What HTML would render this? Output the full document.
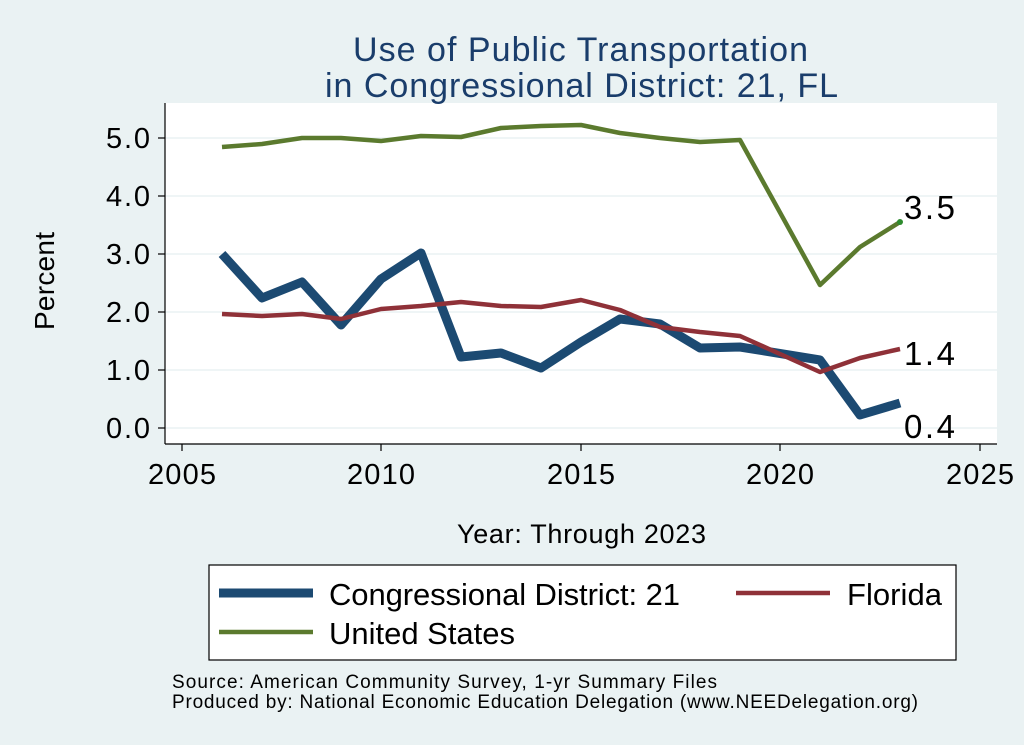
<!DOCTYPE html>
<html><head><meta charset="utf-8"><style>
body{margin:0;background:#eaf2f3;}
svg{display:block;font-family:"Liberation Sans",Arial,sans-serif;}
</style></head><body>
<svg width="1024" height="745" viewBox="0 0 1024 745">
<rect width="1024" height="745" fill="#eaf2f3"/>
<rect x="165" y="103" width="832" height="341" fill="#fff"/>
<g stroke="#eaf2f3" stroke-width="1.5">
<line x1="165" x2="997" y1="428" y2="428"/>
<line x1="165" x2="997" y1="370" y2="370"/>
<line x1="165" x2="997" y1="312" y2="312"/>
<line x1="165" x2="997" y1="254" y2="254"/>
<line x1="165" x2="997" y1="196" y2="196"/>
<line x1="165" x2="997" y1="138" y2="138"/>
</g>
<g stroke="#000" stroke-width="1.2">
<line x1="165" x2="165" y1="103" y2="444"/>
<line x1="165" x2="997" y1="444" y2="444"/>
<line x1="158" x2="165" y1="428" y2="428"/><line x1="158" x2="165" y1="370" y2="370"/>
<line x1="158" x2="165" y1="312" y2="312"/><line x1="158" x2="165" y1="254" y2="254"/>
<line x1="158" x2="165" y1="196" y2="196"/><line x1="158" x2="165" y1="138" y2="138"/>
<line x1="182" x2="182" y1="444" y2="451"/><line x1="381" x2="381" y1="444" y2="451"/>
<line x1="581" x2="581" y1="444" y2="451"/><line x1="780" x2="780" y1="444" y2="451"/>
<line x1="980" x2="980" y1="444" y2="451"/>
</g>
<g font-size="29" fill="#000">
<text x="106" y="438" textLength="44">0.0</text><text x="106" y="380" textLength="44">1.0</text><text x="106" y="322" textLength="44">2.0</text>
<text x="106" y="264" textLength="44">3.0</text><text x="106" y="206" textLength="44">4.0</text><text x="106" y="148" textLength="44">5.0</text>
</g>
<g font-size="29" fill="#000">
<text x="148" y="484" textLength="68">2005</text><text x="347" y="484" textLength="68">2010</text><text x="547" y="484" textLength="68">2015</text>
<text x="746" y="484" textLength="68">2020</text><text x="946" y="484" textLength="68">2025</text>
<text x="457" y="543" font-size="27" textLength="249">Year: Through 2023</text>
</g>
<text transform="translate(54,330) rotate(-90)" font-size="28" textLength="98">Percent</text>
<g font-size="34" fill="#1a3d6b">
<text x="353" y="61" textLength="455">Use of Public Transportation</text>
<text x="325" y="97" textLength="513">in Congressional District: 21, FL</text>
</g>
<polyline fill="none" stroke="#1c4a72" stroke-width="9" stroke-linejoin="round" points="222,254 262,298 302,282 341,325 381,279 421,253 461,357 501,353 541,368 581,342 620,319 660,324 700,348 740,347 820,360 860,415 900,403"/>
<polyline fill="none" stroke="#8f3138" stroke-width="4.5" stroke-linejoin="round" points="222,314 262,316 302,314 341,319 381,309 421,306 461,302 501,306 541,307 581,300 620,310 660,327 700,332 740,336 780,354 820,372 860,358 900,349"/>
<polyline fill="none" stroke="#5b7a2e" stroke-width="4.5" stroke-linejoin="round" points="222,147 262,144 302,138 341,138 381,141 421,136 461,137 501,128 541,126 581,125 620,133 660,138 700,142 740,140 820,285 860,247 900,222"/>
<circle cx="900" cy="222" r="3" fill="#2e8b2e"/>
<g font-size="33" fill="#000">
<text x="904" y="219" textLength="51">3.5</text><text x="904" y="365" textLength="51">1.4</text><text x="904" y="438" textLength="51">0.4</text>
</g>
<rect x="209" y="565" width="747" height="95" fill="#fff" stroke="#000" stroke-width="1.2"/>
<line x1="219" x2="313" y1="593" y2="593" stroke="#1c4a72" stroke-width="9"/>
<line x1="736" x2="830" y1="593" y2="593" stroke="#8f3138" stroke-width="4.5"/>
<line x1="219" x2="313" y1="632" y2="632" stroke="#5b7a2e" stroke-width="4.5"/>
<g font-size="31" fill="#000">
<text x="329" y="605" textLength="351">Congressional District: 21</text>
<text x="847" y="605" textLength="95">Florida</text>
<text x="329" y="644" textLength="186">United States</text>
</g>
<g font-size="19" fill="#000">
<text x="172" y="688" textLength="545">Source: American Community Survey, 1-yr Summary Files</text>
<text x="172" y="708" textLength="746">Produced by: National Economic Education Delegation (www.NEEDelegation.org)</text>
</g>
</svg>
</body></html>
